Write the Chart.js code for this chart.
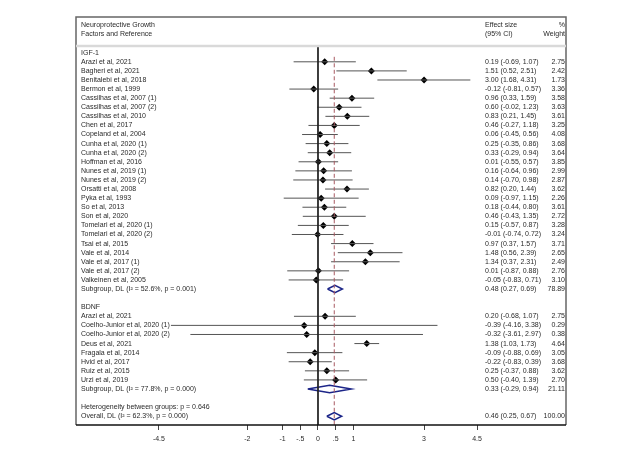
<!DOCTYPE html>
<html>
<head>
<meta charset="utf-8">
<script src="https://cdn.jsdelivr.net/npm/chart.js@4.4.0/dist/chart.umd.min.js"></script>
<style>
  html, body { margin: 0; padding: 0; background: #fff; }
  #wrap { width: 638px; height: 464px; }
</style>
</head>
<body>
<div id="wrap"><canvas id="forest" width="638" height="464"></canvas></div>
<script>
// --- Data ---
const igfStudies = [
  "Arazi et al, 2021", "Bagheri et al, 2021", "Benitalebi et al, 2018", "Bermon et al, 1999",
  "Cassilhas et al, 2007 (1)", "Cassilhas et al, 2007 (2)", "Cassilhas et al, 2010", "Chen et al, 2017",
  "Copeland et al, 2004", "Cunha et al, 2020 (1)", "Cunha et al, 2020 (2)", "Hoffman et al, 2016",
  "Nunes et al, 2019 (1)", "Nunes et al, 2019 (2)", "Orsatti et al, 2008", "Pyka et al, 1993",
  "So et al, 2013", "Son et al, 2020", "Tomelari et al, 2020 (1)", "Tomelari et al, 2020 (2)",
  "Tsai et al, 2015", "Vale et al, 2014", "Vale et al, 2017 (1)", "Vale et al, 2017 (2)",
  "Valkeinen et al, 2005"
];
const igfEs = [0.19, 1.51, 3.00, -0.12, 0.96, 0.60, 0.83, 0.46, 0.06, 0.25, 0.33, 0.01, 0.16, 0.14, 0.82, 0.09, 0.18, 0.46, 0.15, -0.01, 0.97, 1.48, 1.34, 0.01, -0.05];
const igfLo = [-0.69, 0.52, 1.68, -0.81, 0.33, -0.02, 0.21, -0.27, -0.45, -0.35, -0.29, -0.55, -0.64, -0.70, 0.20, -0.97, -0.44, -0.43, -0.57, -0.74, 0.37, 0.56, 0.37, -0.87, -0.83];
const igfHi = [1.07, 2.51, 4.31, 0.57, 1.59, 1.23, 1.45, 1.18, 0.56, 0.86, 0.94, 0.57, 0.96, 0.98, 1.44, 1.15, 0.80, 1.35, 0.87, 0.72, 1.57, 2.39, 2.31, 0.88, 0.71];
const igfWt = [2.75, 2.42, 1.73, 3.36, 3.58, 3.63, 3.61, 3.25, 4.08, 3.68, 3.64, 3.85, 2.99, 2.87, 3.62, 2.26, 3.61, 2.72, 3.28, 3.24, 3.71, 2.65, 2.49, 2.76, 3.10];

const bdnfStudies = [
  "Arazi et al, 2021", "Coelho-Junior et al, 2020 (1)", "Coelho-Junior et al, 2020 (2)", "Deus et al, 2021",
  "Fragala et al, 2014", "Hvid et al, 2017", "Ruiz et al, 2015", "Urzi et al, 2019"
];
const bdnfEs = [0.20, -0.39, -0.32, 1.38, -0.09, -0.22, 0.25, 0.50];
const bdnfLo = [-0.68, -4.16, -3.61, 1.03, -0.88, -0.83, -0.37, -0.40];
const bdnfHi = [1.07, 3.38, 2.97, 1.73, 0.69, 0.39, 0.88, 1.39];
const bdnfWt = [2.75, 0.29, 0.38, 4.64, 3.05, 3.68, 3.62, 2.70];

// pooled: [es, lo, hi, weight]
const igfPooled = [0.48, 0.27, 0.69, 78.89];
const bdnfPooled = [0.33, -0.29, 0.94, 21.11];
const overallPooled = [0.46, 0.25, 0.67, 100.00];

const igfLabel = "Subgroup, DL (I² = 52.6%, p = 0.001)";
const bdnfLabel = "Subgroup, DL (I² = 77.8%, p = 0.000)";
const hetLabel = "Heterogeneity between groups: p = 0.646";
const overallLabel = "Overall, DL (I² = 62.3%, p = 0.000)";

const tickVals = [-4.5, -2, -1, -0.5, 0, 0.5, 1, 3, 4.5];

// --- Rows (top to bottom) ---
const rows = [];
rows.push({ r: 0, label: "IGF-1" });
igfStudies.forEach((s, i) => rows.push({ r: 1 + i, label: s, es: igfEs[i], lo: igfLo[i], hi: igfHi[i], w: igfWt[i] }));
rows.push({ r: 26, label: igfLabel, es: igfPooled[0], lo: igfPooled[1], hi: igfPooled[2], w: igfPooled[3], pooled: true });
rows.push({ r: 28, label: "BDNF" });
bdnfStudies.forEach((s, i) => rows.push({ r: 29 + i, label: s, es: bdnfEs[i], lo: bdnfLo[i], hi: bdnfHi[i], w: bdnfWt[i] }));
rows.push({ r: 37, label: bdnfLabel, es: bdnfPooled[0], lo: bdnfPooled[1], hi: bdnfPooled[2], w: bdnfPooled[3], pooled: true });
rows.push({ r: 39, label: hetLabel });
rows.push({ r: 40, label: overallLabel, es: overallPooled[0], lo: overallPooled[1], hi: overallPooled[2], w: overallPooled[3], pooled: true });

const studyRows = rows.filter(d => d.es !== undefined && !d.pooled);
const pooledRows = rows.filter(d => d.pooled);

// CI segments, separated by gaps
const ciData = [];
studyRows.forEach(d => {
  ciData.push({ x: d.lo, y: d.r }, { x: d.hi, y: d.r }, { x: null, y: null });
});

// diamonds for pooled estimates
const DH = 0.4;
const diamondData = [];
pooledRows.forEach(d => {
  diamondData.push({ x: d.lo, y: d.r }, { x: d.es, y: d.r - DH }, { x: d.hi, y: d.r },
    { x: d.es, y: d.r + DH }, { x: d.lo, y: d.r }, { x: null, y: null });
});

const TOP_ROW = -3.93, BOTTOM_ROW = 40.96;
const X_MIN = -6.846, X_MAX = 7.016;
const FONT = "7px 'Liberation Sans', Arial, sans-serif";
const TEXT = "#2a2a2a";

// --- Texte, cadre et en-têtes ---
const forestText = {
  id: "forestText",
  afterDraw(chart) {
    const { ctx, chartArea: a, scales: { y } } = chart;
    ctx.save();
    // box
    ctx.strokeStyle = "#666";
    ctx.lineWidth = 1.5;
    ctx.beginPath();
    ctx.moveTo(a.left, a.bottom);
    ctx.lineTo(a.left, a.top);
    ctx.lineTo(a.right, a.top);
    ctx.lineTo(a.right, a.bottom);
    ctx.stroke();
    ctx.strokeStyle = "#111";
    ctx.beginPath();
    ctx.moveTo(a.left, a.bottom);
    ctx.lineTo(a.right, a.bottom);
    ctx.stroke();
    // header rule
    ctx.strokeStyle = "#d9d9d9";
    ctx.lineWidth = 2.5;
    const hy = y.getPixelForValue(-0.74);
    ctx.beginPath();
    ctx.moveTo(a.left, hy);
    ctx.lineTo(a.right, hy);
    ctx.stroke();

    ctx.font = FONT;
    ctx.fillStyle = TEXT;
    ctx.textBaseline = "middle";
    const lx = a.left + 5, ex = 485, wx = a.right - 1;
    ctx.textAlign = "left";
    ctx.fillText("Neuroprotective Growth", lx, y.getPixelForValue(-3));
    ctx.fillText("Factors and Reference", lx, y.getPixelForValue(-2));
    ctx.fillText("Effect size", ex, y.getPixelForValue(-3));
    ctx.fillText("(95% CI)", ex, y.getPixelForValue(-2));
    ctx.textAlign = "right";
    ctx.fillText("%", wx, y.getPixelForValue(-3));
    ctx.fillText("Weight", wx, y.getPixelForValue(-2));

    rows.forEach(d => {
      const py = y.getPixelForValue(d.r);
      ctx.textAlign = "left";
      ctx.fillText(d.label, lx, py);
      if (d.es !== undefined) {
        ctx.fillText(`${d.es.toFixed(2)} (${d.lo.toFixed(2)}, ${d.hi.toFixed(2)})`, ex, py);
        ctx.textAlign = "right";
        ctx.fillText(d.w.toFixed(2), wx, py);
      }
    });
    ctx.restore();
  }
};

new Chart(document.getElementById("forest").getContext("2d"), {
  type: "scatter",
  data: {
    datasets: [
      {
        type: "line",
        data: [{ x: 0, y: -0.74 }, { x: 0, y: BOTTOM_ROW }],
        borderColor: "#222",
        borderWidth: 1,
        pointRadius: 0
      },
      {
        type: "line",
        data: [{ x: overallPooled[0], y: 0.45 }, { x: overallPooled[0], y: BOTTOM_ROW }],
        borderColor: "#a85a62",
        borderWidth: 1,
        borderDash: [4, 2.5],
        pointRadius: 0
      },
      {
        type: "line",
        data: ciData,
        borderColor: "#555",
        borderWidth: 1,
        pointRadius: 0,
        spanGaps: false
      },
      {
        data: studyRows.map(d => ({ x: d.es, y: d.r })),
        pointStyle: "rectRot",
        pointRadius: 3.5,
        backgroundColor: "#000",
        borderWidth: 0
      },
      {
        type: "line",
        data: diamondData,
        borderColor: "#1c2588",
        borderWidth: 1.5,
        pointRadius: 0,
        spanGaps: false
      }
    ]
  },
  options: {
    responsive: false,
    animation: false,
    layout: { padding: { left: 76, right: 72, top: 17, bottom: 0 } },
    plugins: { legend: { display: false }, tooltip: { enabled: false } },
    scales: {
      x: {
        type: "linear",
        min: X_MIN,
        max: X_MAX,
        afterBuildTicks: s => { s.ticks = tickVals.map(v => ({ value: v })); },
        afterFit: s => { s.height = 39; },
        grid: { drawOnChartArea: false, drawTicks: true, tickLength: 5, color: "#444" },
        border: { display: false },
        ticks: {
          font: { family: "'Liberation Sans', Arial, sans-serif", size: 7 },
          color: TEXT,
          padding: 5,
          maxRotation: 0,
          autoSkip: false,
          callback: v => (v === 0 ? "0" : String(v).replace(/^(-?)0\./, "$1."))
        }
      },
      y: {
        type: "linear",
        display: false,
        reverse: true,
        min: TOP_ROW,
        max: BOTTOM_ROW
      }
    }
  },
  plugins: [forestText]
});
</script>
</body>
</html>
